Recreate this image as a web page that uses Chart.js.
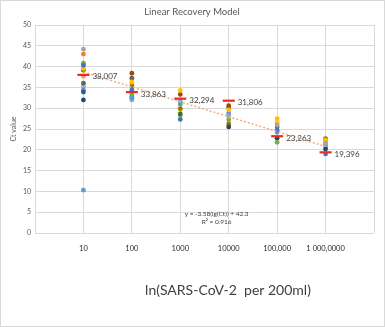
<!DOCTYPE html>
<html>
<head>
<meta charset="utf-8">
<script src="https://cdn.jsdelivr.net/npm/chart.js@4/dist/chart.umd.min.js"></script>
<style>
  html, body { margin: 0; padding: 0; background: #fff; }
  #wrap { width: 385px; height: 327px; position: relative; }
</style>
</head>
<body>
<div id="wrap"><canvas id="chartCt"></canvas></div>
<script>
// --- Datos ---
const xLabels = ["", "10", "100", "1000", "10000", "100,000", "1 000,0000", ""];
const xPos = [1, 2, 3, 4, 5, 6];

// valores Ct por muestra (una serie por color)
const s1 = [40.3, 34.4, 27.3, null, 24.7, 19.0];
const s2 = [43.0, null, null, null, null, null];
const s3 = [44.2, null, null, 28.0, 26.0, 21.6];
const s4 = [39.6, 36.3, 34.3, 29.6, 27.5, 22.3];
const s5 = [10.3, 32.4, 31.3, 28.9, 24.2, 21.2];
const s6 = [40.8, 33.2, 30.9, 27.2, 21.8, 22.0];
const s7 = [32.0, null, null, 25.5, 22.8, 20.2];
const s8 = [null, 38.4, 33.3, 30.6, null, null];
const s9 = [36.0, 37.2, null, 30.1, null, null];
const s10 = [39.1, 35.4, 29.9, 26.2, 25.5, 22.7];
const s11 = [33.9, null, null, null, null, null];
const s12 = [null, 32.7, 28.6, null, null, null];
const s13 = [34.4, null, null, null, null, null];
const s14 = [37.7, null, null, null, null, null];
const s15 = [35.6, null, null, null, null, null];
const s16 = [null, 36.0, 29.6, 25.8, 27.0, null];
const s17 = [35.2, 32.0, 31.8, 28.4, null, 20.7];
const s18 = [null, null, 28.2, null, 26.5, null];

const series = [s1, s2, s3, s4, s5, s6, s7, s8, s9, s10, s11, s12, s13, s14, s15, s16, s17, s18];
const colores = ["#4472C4", "#ED7D31", "#A5A5A5", "#FFC000", "#5B9BD5", "#70AD47", "#264478", "#9E480E",
                 "#636363", "#997300", "#255E91", "#43682B", "#698ED0", "#F1975A", "#B7B7B7", "#FFCD33",
                 "#7CAFDD", "#8CC168"];

const medias = [38.007, 33.863, 32.294, 31.806, 23.263, 19.396];
const mediasTxt = ["38,007", "33,863", "32,294", "31,806", "23,263", "19,396"];

// linea de tendencia (extremos)
const tendX = [1, 6];
const tendY = [38.7, 20.8];

const yTicks = [0, 5, 10, 15, 20, 25, 30, 35, 40, 45, 50];

const fuente = "Lato, 'Open Sans', sans-serif";

// --- Datasets ---
const datasets = [];
datasets.push({
    type: "scatter",
    data: xPos.map((x, i) => ({ x, y: medias[i] })),
    pointStyle: "line",
    pointRadius: 6,
    pointBorderWidth: 2.2,
    borderColor: "#EE2A1B",
    backgroundColor: "#EE2A1B"
});
datasets.push({
    type: "line",
    data: tendX.map((x, i) => ({ x, y: tendY[i] })),
    borderColor: "#F4B183",
    borderWidth: 1.6,
    borderDash: [2, 2],
    pointRadius: 0,
    fill: false
});
series.forEach((s, k) => {
    datasets.push({
        type: "scatter",
        data: xPos.map((x, i) => ({ x, y: s[i] })).filter(p => p.y !== null),
        pointRadius: 2.4,
        pointBorderWidth: 0,
        backgroundColor: colores[k],
        borderColor: colores[k]
    });
});

// --- Textos extra ---
const textos = {
    id: "textos",
    beforeDraw(chart) {
        const c = chart.ctx;
        c.save();
        c.fillStyle = "#fff";
        c.fillRect(0, 0, chart.width, chart.height);
        c.restore();
    },
    afterDraw(chart) {
        const c = chart.ctx;
        const xs = chart.scales.x, ys = chart.scales.y;
        c.save();
        c.strokeStyle = "#d9d9d9";
        c.lineWidth = 1;
        c.strokeRect(0.5, 0.5, chart.width - 1, chart.height - 1);

        c.fillStyle = "#595959";
        c.textAlign = "center";
        c.textBaseline = "middle";
        c.font = "9.5px " + fuente;
        c.fillText("Linear Recovery Model", 192, 12);

        c.save();
        c.translate(14, 129);
        c.rotate(-Math.PI / 2);
        c.font = "7px " + fuente;
        c.fillText("Ct value", 0, 0);
        c.restore();

        c.fillStyle = "#404040";
        c.font = "14px " + fuente;
        c.fillText("ln(SARS-CoV-2  per 200ml)", 228, 290);

        c.font = "6.5px " + fuente;
        const ex = xs.getPixelForValue(3.75);
        c.fillText("y = -3.58(lg(Ct)) + 42.3", ex, ys.getPixelForValue(4.6));
        c.fillText("R\u00B2 = 0.916", ex, ys.getPixelForValue(2.6));

        c.textAlign = "left";
        c.font = "8px " + fuente;
        const meta = chart.getDatasetMeta(0);
        meta.data.forEach((p, i) => {
            c.fillText(mediasTxt[i], p.x + 9, p.y + 2);
        });
        c.restore();
    }
};

new Chart(document.getElementById("chartCt"), {
    type: "scatter",
    data: { datasets },
    options: {
        responsive: true,
        maintainAspectRatio: false,
        animation: false,
        layout: { padding: { left: 0, right: 9, top: 25, bottom: 0 } },
        plugins: { legend: { display: false }, tooltip: { enabled: false } },
        scales: {
            x: {
                type: "linear",
                min: 0,
                max: 7,
                afterFit: (s) => { s.height = 94; },
                afterBuildTicks: (s) => { s.ticks = xLabels.map((_, i) => ({ value: i })); },
                grid: { color: "#d9d9d9", drawTicks: false },
                border: { display: false },
                ticks: {
                    padding: 11,
                    color: "#262626",
                    font: { family: fuente, size: 7.5 },
                    callback: (v) => xLabels[v] || ""
                }
            },
            y: {
                min: 0,
                max: 50,
                afterFit: (s) => { s.width = 35; },
                afterBuildTicks: (s) => { s.ticks = yTicks.map(v => ({ value: v })); },
                grid: { color: "#d9d9d9", drawTicks: false },
                border: { display: false },
                ticks: {
                    padding: 4,
                    color: "#595959",
                    font: { family: fuente, size: 7 }
                }
            }
        }
    },
    plugins: [textos]
});
</script>
</body>
</html>
